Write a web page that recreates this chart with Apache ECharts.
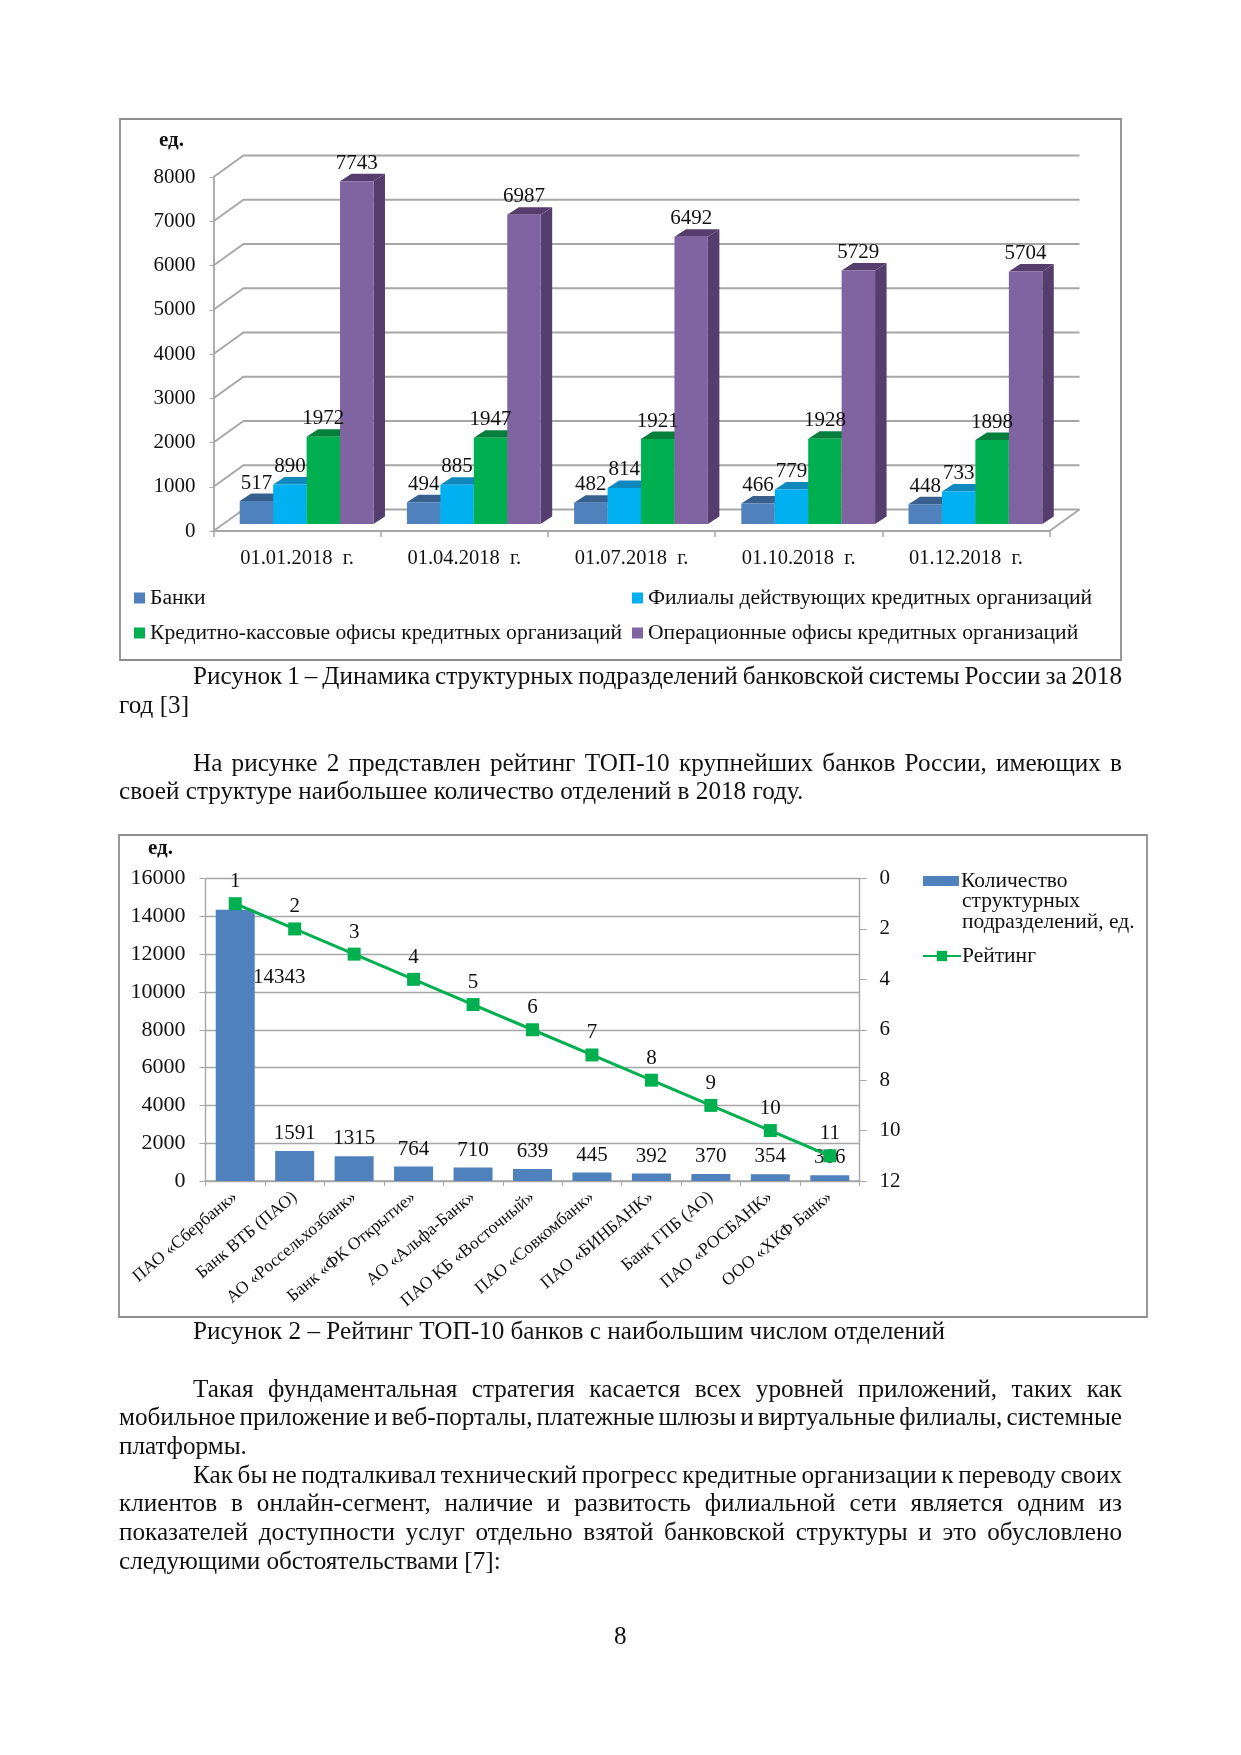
<!DOCTYPE html>
<html><head><meta charset="utf-8">
<script src="https://cdn.jsdelivr.net/npm/echarts@6/dist/echarts.min.js"></script>
<style>
html,body{margin:0;padding:0;background:#fff;}
#page{position:relative;width:1241px;height:1755px;overflow:hidden;}
#chart{position:absolute;left:0;top:0;width:1241px;height:1755px;}
.ln{position:absolute;font-family:"Liberation Serif",serif;font-size:25.2px;line-height:30px;height:30px;color:#111;white-space:nowrap;}
.j{text-align:justify;text-align-last:justify;}
</style></head><body>
<div id="page"><div id="chart"></div></div>
<script>
const FONT = 'Liberation Serif';

// Figure 1
const dates = ['01.01.2018  г.', '01.04.2018  г.', '01.07.2018  г.', '01.10.2018  г.', '01.12.2018  г.'];
const banks = [517, 494, 482, 466, 448];
const branches = [890, 885, 814, 779, 733];
const cashOffices = [1972, 1947, 1921, 1928, 1898];
const operOffices = [7743, 6987, 6492, 5729, 5704];
const fig1Ticks = [0, 1000, 2000, 3000, 4000, 5000, 6000, 7000, 8000];

// Figure 2
const bankNames = ['ПАО «Сбербанк»', 'Банк ВТБ (ПАО)', 'АО «Россельхозбанк»', 'Банк «ФК Открытие»', 'АО «Альфа-Банк»', 'ПАО КБ «Восточный»', 'ПАО «Совкомбанк»', 'ПАО «БИНБАНК»', 'Банк ГПБ (АО)', 'ПАО «РОСБАНК»', 'ООО «ХКФ Банк»'];
const unitCounts = [14343, 1591, 1315, 764, 710, 639, 445, 392, 370, 354, 306];
const ranks = [1, 2, 3, 4, 5, 6, 7, 8, 9, 10, 11];

// Page text: [text, kind, centre y]
const pageLines = [
  ['Рисунок 1 – Динамика структурных подразделений банковской системы России за 2018', 'ij', 676],
  ['год [3]', 'l', 705],
  ['На рисунке 2 представлен рейтинг ТОП-10 крупнейших банков России, имеющих в', 'ij', 763],
  ['своей структуре наибольшее количество отделений в 2018 году.', 'l', 791],
  ['Рисунок 2 – Рейтинг ТОП-10 банков с наибольшим числом отделений', 'i', 1331],
  ['Такая фундаментальная стратегия касается всех уровней приложений, таких как', 'ij', 1389],
  ['мобильное приложение и веб-порталы, платежные шлюзы и виртуальные филиалы, системные', 'j', 1417],
  ['платформы.', 'l', 1446],
  ['Как бы не подталкивал технический прогресс кредитные организации к переводу своих', 'ij', 1475],
  ['клиентов в онлайн-сегмент, наличие и развитость филиальной сети является одним из', 'j', 1503],
  ['показателей доступности услуг отдельно взятой банковской структуры и это обусловлено', 'j', 1532],
  ['следующими обстоятельствами [7]:', 'l', 1561]
];

const page = document.getElementById('page');
pageLines.forEach(function (l) {
  const d = document.createElement('div');
  const ind = l[1].indexOf('i') >= 0;
  const just = l[1].indexOf('j') >= 0;
  const w = ind ? 929 : 1003;
  d.className = 'ln' + (just ? ' j' : '');
  d.style.left = (ind ? 193 : 119) + 'px';
  d.style.width = w + 'px';
  d.style.top = (l[2] - 15) + 'px';
  d.textContent = l[0];
  page.appendChild(d);
  if (just && d.scrollWidth > w) {
    const spaces = l[0].split(' ').length - 1;
    d.style.wordSpacing = (-(d.scrollWidth - w + 1) / spaces) + 'px';
  }
});
const pn = document.createElement('div');
pn.className = 'ln'; pn.style.left = '614px'; pn.style.top = '1621px'; pn.textContent = '8';
page.appendChild(pn);

const GRAY = '#a6a6a6';
const DEPTH_X = 30, DEPTH_Y = 21.5;      // floor depth of the 3D plot
const BAR_DX = 11.5, BAR_DY = 7.5;       // depth of one bar
const SHIFT_X = 9.5, SHIFT_Y = 7;        // bars sit inside the floor

function barRender(idx, color, topColor, sideColor) {
  return function (params, api) {
    const val = api.value(1);
    const c = api.coord([api.value(0), val]);
    const c0 = api.coord([api.value(0), 0]);
    const band = api.size([1, 0])[0];
    const bw = band * 0.2;
    const xl = c[0] + (idx - 2) * bw + SHIFT_X, xr = xl + bw;
    const yt = c[1] - SHIFT_Y, yb = c0[1] - SHIFT_Y;
    return {
      type: 'group',
      children: [
        { type: 'polygon', z2: 1, shape: { points: [[xr, yt], [xr + BAR_DX, yt - BAR_DY], [xr + BAR_DX, yb - BAR_DY], [xr, yb]] }, style: { fill: sideColor } },
        { type: 'polygon', z2: 2, shape: { points: [[xl, yt], [xl + BAR_DX, yt - BAR_DY], [xr + BAR_DX, yt - BAR_DY], [xr, yt]] }, style: { fill: topColor } },
        { type: 'rect', z2: 3, shape: { x: xl, y: yt, width: bw, height: yb - yt }, style: { fill: color } },
        { type: 'text', z2: 50, style: { x: (xl + xr) / 2, y: yt - BAR_DY - 10.5, text: String(val), align: 'center', verticalAlign: 'middle', font: '21px "' + FONT + '"', fill: '#111' } }
      ]
    };
  };
}
function wallRender(params, api) {
  const cs = params.coordSys;
  const p = api.coord([0, api.value(1)]);
  const x = cs.x, y = p[1];
  const children = [{ type: 'polyline', shape: { points: [[x, y], [x + DEPTH_X, y - DEPTH_Y], [x + cs.width + DEPTH_X, y - DEPTH_Y]] }, style: { fill: null, stroke: GRAY, lineWidth: 1.8 } }];
  if (api.value(1) === 0) {
    children.push({ type: 'line', shape: { x1: x + cs.width, y1: y, x2: x + cs.width + DEPTH_X, y2: y - DEPTH_Y }, style: { stroke: GRAY, lineWidth: 1.8 } });
  }
  return { type: 'group', children: children };
}
function rows(a) { return a.map(function (v, i) { return [i, v]; }); }
function plain(v) { return String(v); }
function legendAt(name, left, top) {
  return { show: true, left: left, top: top, icon: 'rect', itemWidth: 11, itemHeight: 11, itemGap: 0, padding: 0, data: [name], selectedMode: false,
    textStyle: { fontFamily: FONT, fontSize: 21.6, color: '#111', padding: [0, 0, 0, 0] } };
}

const S1 = ['Банки', 'Филиалы действующих кредитных организаций', 'Кредитно-кассовые офисы кредитных организаций', 'Операционные офисы кредитных организаций'];
const S2 = ['Количество структурных подразделений, ед.', 'Рейтинг'];
const axisTxt = { fontFamily: FONT, color: '#111' };

const chart = echarts.init(document.getElementById('chart'), null, { renderer: 'canvas' });
chart.setOption({
  animation: false,
  backgroundColor: '#fff',
  graphic: [
    { type: 'rect', shape: { x: 120, y: 119, width: 1001, height: 541 }, style: { fill: null, stroke: '#8e8e8e', lineWidth: 1.8 } },
    { type: 'rect', shape: { x: 119, y: 835, width: 1028, height: 482 }, style: { fill: null, stroke: '#8e8e8e', lineWidth: 1.8 } },
    { type: 'text', x: 159, y: 130, style: { text: 'ед.', font: 'bold 21px "' + FONT + '"', fill: '#111' } },
    { type: 'text', x: 148, y: 838, style: { text: 'ед.', font: 'bold 21px "' + FONT + '"', fill: '#111' } },
    { type: 'text', x: 962, y: 891, style: { text: 'структурных\nподразделений, ед.', font: '21.5px "' + FONT + '"', lineHeight: 21, fill: '#111' } }
  ],
  legend: [
    legendAt(S1[0], 134, 587), legendAt(S1[1], 632, 587), legendAt(S1[2], 134, 622), legendAt(S1[3], 632, 622),
    { left: 923, top: 870, icon: 'rect', itemWidth: 36, itemHeight: 10, padding: 0, itemGap: 0, data: [S2[0]], selectedMode: false,
      formatter: function () { return 'Количество'; }, textStyle: { fontFamily: FONT, fontSize: 21.5, color: '#111', padding: [0, 0, 0, -3] } },
    { left: 922, top: 945, itemWidth: 38, itemHeight: 13, padding: 0, itemGap: 0, data: [S2[1]], selectedMode: false,
      textStyle: { fontFamily: FONT, fontSize: 21.5, color: '#111', padding: [0, 0, 0, -4] } }
  ],
  grid: [
    { left: 213.5, top: 177, width: 836, height: 354, containLabel: false },
    { left: 205.5, top: 878.5, width: 654, height: 302.5, containLabel: false }
  ],
  xAxis: [
    { type: 'category', gridIndex: 0, data: dates, boundaryGap: true,
      axisLine: { lineStyle: { color: GRAY, width: 2 } }, axisTick: { show: true, length: 6, inside: false, lineStyle: { color: GRAY, width: 1.5 } },
      axisLabel: Object.assign({}, axisTxt, { fontSize: 20.5, margin: 17, interval: 0 }) },
    { type: 'category', gridIndex: 1, data: bankNames, boundaryGap: true,
      axisLine: { lineStyle: { color: GRAY, width: 1.5 } }, axisTick: { show: true, length: 5, lineStyle: { color: GRAY } },
      axisLabel: Object.assign({}, axisTxt, { fontSize: 17.5, margin: 14, interval: 0, rotate: 40 }) }
  ],
  yAxis: [
    { type: 'value', gridIndex: 0, min: 0, max: 8000, interval: 1000, splitLine: { show: false },
      axisLine: { show: true, lineStyle: { color: GRAY, width: 1.8 } }, axisTick: { show: true, length: 4, lineStyle: { color: GRAY } },
      axisLabel: Object.assign({}, axisTxt, { fontSize: 21, margin: 18, formatter: plain }) },
    { type: 'value', gridIndex: 1, min: 0, max: 16000, interval: 2000,
      splitLine: { show: true, lineStyle: { color: GRAY, width: 1.4 } },
      axisLine: { show: true, lineStyle: { color: GRAY, width: 1.4 } }, axisTick: { show: true, length: 6, lineStyle: { color: GRAY } },
      axisLabel: Object.assign({}, axisTxt, { fontSize: 22, margin: 20, formatter: plain }) },
    { type: 'value', gridIndex: 1, position: 'right', inverse: true, min: 0, max: 12, interval: 2, splitLine: { show: false },
      axisLine: { show: true, lineStyle: { color: GRAY, width: 1.4 } }, axisTick: { show: true, length: 7, lineStyle: { color: GRAY } },
      axisLabel: Object.assign({}, axisTxt, { fontSize: 21, margin: 20 }) }
  ],
  series: [
    { type: 'custom', name: 'wall', xAxisIndex: 0, yAxisIndex: 0, z: 1, silent: true, renderItem: wallRender, encode: { x: 0, y: 1 }, data: fig1Ticks.map(function (v) { return [0, v]; }) },
    { type: 'custom', name: S1[0], xAxisIndex: 0, yAxisIndex: 0, z: 3, itemStyle: { color: '#4f81bd' }, renderItem: barRender(0, '#4f81bd', '#37608f', '#37608f'), encode: { x: 0, y: 1 }, data: rows(banks) },
    { type: 'custom', name: S1[1], xAxisIndex: 0, yAxisIndex: 0, z: 3, itemStyle: { color: '#00b0f0' }, renderItem: barRender(1, '#00b0f0', '#0f88bd', '#0f88bd'), encode: { x: 0, y: 1 }, data: rows(branches) },
    { type: 'custom', name: S1[2], xAxisIndex: 0, yAxisIndex: 0, z: 3, itemStyle: { color: '#00b050' }, renderItem: barRender(2, '#00b050', '#067f3c', '#067f3c'), encode: { x: 0, y: 1 }, data: rows(cashOffices) },
    { type: 'custom', name: S1[3], xAxisIndex: 0, yAxisIndex: 0, z: 3, itemStyle: { color: '#8064a2' }, renderItem: barRender(3, '#8064a2', '#553e6e', '#553e6e'), encode: { x: 0, y: 1 }, data: rows(operOffices) },
    { type: 'bar', name: S2[0], xAxisIndex: 1, yAxisIndex: 1, barWidth: 39, itemStyle: { color: '#4f81bd' }, z: 3,
      label: { show: true, position: 'top', distance: 7, fontFamily: FONT, fontSize: 21, color: '#111' },
      data: unitCounts.map(function (v, i) { return i === 0 ? { value: v, label: { offset: [44, 85] } } : v; }) },
    { type: 'line', name: S2[1], xAxisIndex: 1, yAxisIndex: 2, z: 4, symbol: 'rect', symbolSize: 13, itemStyle: { color: '#00b050' }, lineStyle: { color: '#00b050', width: 3 },
      label: { show: true, position: 'top', distance: 5, fontFamily: FONT, fontSize: 21, color: '#111' },
      data: ranks }
  ]
});
</script>
</body></html>
